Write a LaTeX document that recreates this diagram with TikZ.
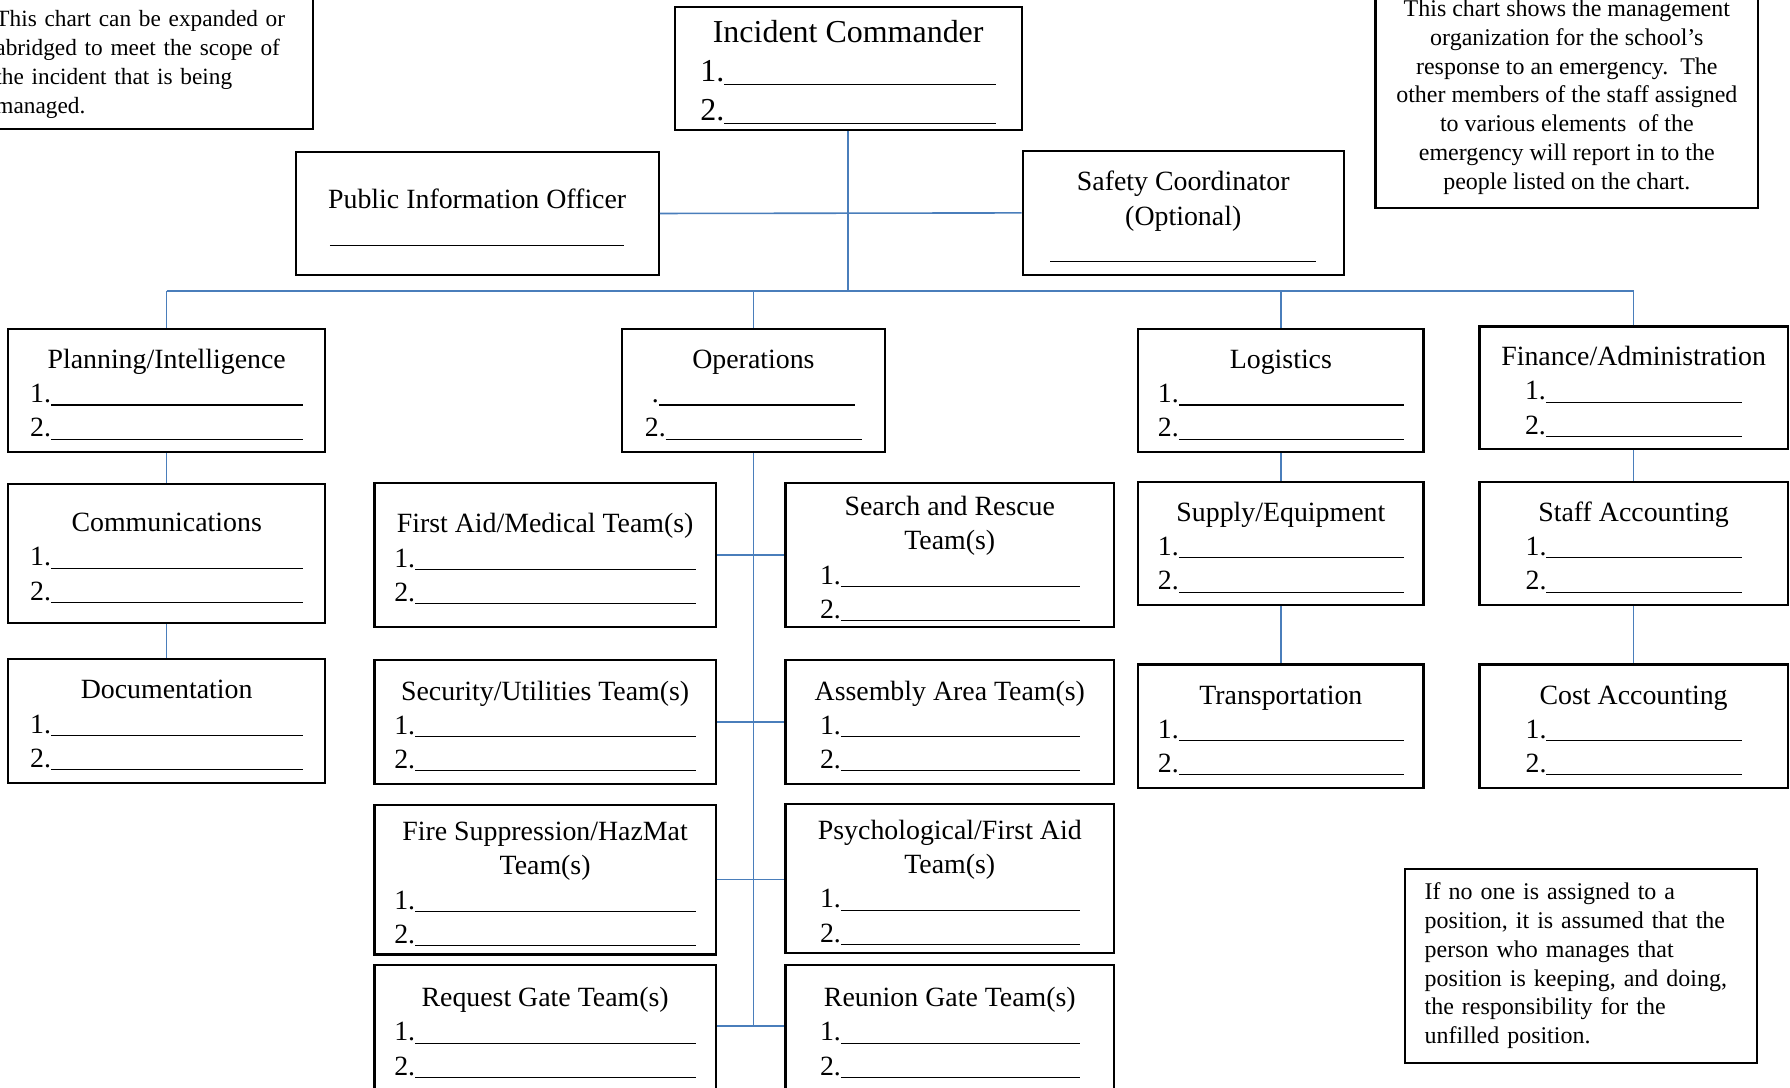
\documentclass[tikz,border=0pt]{standalone}
\usepackage{fontspec}
\setmainfont{Liberation Serif}
\definecolor{linkblue}{RGB}{74,126,187}
\newcommand{\fillin}[1]{\rule[-0.1em]{#1}{0.5pt}}
\newcommand{\bx}{\rule{0pt}{12pt}}
\newcommand{\bxbig}{\rule{0pt}{13pt}}
\begin{document}
\begin{tikzpicture}[x=0.5pt,y=-0.5pt,
  box/.style={draw=black, line width=1pt, fill=white, align=center, inner sep=2pt,
    font=\fontsize{12.2}{15}\selectfont},
  bigbox/.style={box, font=\fontsize{14}{17}\selectfont},
  note/.style={draw=black, line width=1pt, fill=white, font=\fontsize{10.5}{12.6}\selectfont},
  link/.style={draw=linkblue, line width=0.7pt}]
\useasboundingbox (0,0) rectangle (1568,953);
\clip (0,0) rectangle (1568,953);
\fill[white] (0,0) rectangle (1568,953);

% notes
\node[note, font=\fontsize{10.2}{12.6}\selectfont, text width=131pt, inner xsep=8pt, align=left, minimum height=61.5pt] (noteL) at (127,51.5)
  {\rule{0pt}{12pt}This chart can be expanded or\\abridged to meet the scope of\\the incident that is being\\managed.};
\node[note, align=center, minimum width=167.5pt, minimum height=97pt, inner sep=0pt] (noteR) at (1372.5,85)
  {This chart shows the management\\organization for the school’s\\response to an emergency.\ \ The\\other members of the staff assigned\\to various elements\ \ of the\\emergency will report in to the\\people listed on the chart.};
\node[note, text width=137pt, inner xsep=8.5pt, align=left, minimum height=85pt] (noteB) at (1385,846)
  {If no one is assigned to a\\position, it is assumed that the\\person who manages that\\position is keeping, and doing,\\the responsibility for the\\unfilled position.};

% top level
\node[bigbox, minimum width=152pt, minimum height=54pt] (ic) at (743,60)
  {\bxbig Incident Commander\\1.\fillin{119pt}\\2.\fillin{119pt}};
\node[box, minimum width=159pt, minimum height=54pt] (pio) at (418,187)
  {\bx Public Information Officer\\\fillin{129pt}};
\node[box, minimum width=140.5pt, minimum height=54.5pt] (safety) at (1036.5,186.5)
  {\bx Safety Coordinator\\(Optional)\\\fillin{116.5pt}};

% sections
\node[box, minimum width=139pt, minimum height=54pt] (plan) at (146,342)
  {\bx Planning/Intelligence\\1.\fillin{110.5pt}\\2.\fillin{110.5pt}};
\node[box, minimum width=115pt, minimum height=54pt] (ops) at (660,342)
  {\bx Operations\\.\fillin{86pt}\\2.\fillin{86pt}};
\node[box, minimum width=125pt, minimum height=54pt] (log) at (1122,342)
  {\bx Logistics\\1.\fillin{98.5pt}\\2.\fillin{98.5pt}};
\node[box, minimum width=135pt, minimum height=53.5pt] (fin) at (1431,339.5)
  {\bx Finance/Administration\\1.\fillin{86pt}\\2.\fillin{86pt}};

% planning column
\node[box, minimum width=139pt, minimum height=61pt] (comm) at (146,485)
  {\bx Communications\\1.\fillin{110.5pt}\\2.\fillin{110.5pt}};
\node[box, minimum width=139pt, minimum height=54.5pt] (doc) at (146,631.5)
  {\bx Documentation\\1.\fillin{110.5pt}\\2.\fillin{110.5pt}};

% logistics column
\node[box, minimum width=125pt, minimum height=54pt] (sup) at (1122,476)
  {\bx Supply/Equipment\\1.\fillin{98.5pt}\\2.\fillin{98.5pt}};
\node[box, minimum width=125pt, minimum height=54pt] (trans) at (1122,636)
  {\bx Transportation\\1.\fillin{98.5pt}\\2.\fillin{98.5pt}};

% finance column
\node[box, minimum width=135pt, minimum height=54pt] (staff) at (1431,476)
  {\bx Staff Accounting\\1.\fillin{85.5pt}\\2.\fillin{85.5pt}};
\node[box, minimum width=135pt, minimum height=54pt] (cost) at (1431,636)
  {\bx Cost Accounting\\1.\fillin{85.5pt}\\2.\fillin{85.5pt}};

% operations teams
\node[box, minimum width=149.5pt, minimum height=63pt] (fa) at (477.5,486)
  {\bx First Aid/Medical Team(s)\\1.\fillin{123pt}\\2.\fillin{123pt}};
\node[box, minimum width=144pt, minimum height=63pt] (sr) at (832,486)
  {\bx Search and Rescue\\Team(s)\\1.\fillin{104.5pt}\\2.\fillin{104.5pt}};
\node[box, minimum width=149.5pt, minimum height=54.5pt] (sec) at (477.5,632.5)
  {\bx Security/Utilities Team(s)\\1.\fillin{123pt}\\2.\fillin{123pt}};
\node[box, minimum width=144pt, minimum height=54.5pt] (asm) at (832,632.5)
  {\bx Assembly Area Team(s)\\1.\fillin{104.5pt}\\2.\fillin{104.5pt}};
\node[box, minimum width=149.5pt, minimum height=65.5pt] (fire) at (477.5,770.5)
  {\bx Fire Suppression/HazMat\\Team(s)\\1.\fillin{123pt}\\2.\fillin{123pt}};
\node[box, minimum width=144pt, minimum height=65.5pt] (psy) at (832,769.5)
  {\bx Psychological/First Aid\\Team(s)\\1.\fillin{104.5pt}\\2.\fillin{104.5pt}};
\node[box, minimum width=149.5pt, minimum height=56pt] (req) at (477.5,901)
  {\bx Request Gate Team(s)\\1.\fillin{123pt}\\2.\fillin{123pt}};
\node[box, minimum width=144pt, minimum height=56pt] (reu) at (832,901)
  {\bx Reunion Gate Team(s)\\1.\fillin{104.5pt}\\2.\fillin{104.5pt}};

% connectors
\coordinate (busL) at (146,255);
\coordinate (busR) at (1431,255);
\coordinate (opsEnd) at (660,899);
\draw[link] (busL) -- (busR);
\draw[link] (ic.south) -- (ic.south |- busL);
\draw[link] (pio.east) -- (safety.west);
\draw[link] (plan.north) -- (plan.north |- busL);
\draw[link] (ops.north) -- (ops.north |- busL);
\draw[link] (log.north) -- (log.north |- busL);
\draw[link] (fin.north) -- (fin.north |- busL);
\draw[link] (plan.south) -- (comm.north);
\draw[link] (comm.south) -- (doc.north);
\draw[link] (log.south) -- (sup.north);
\draw[link] (sup.south) -- (trans.north);
\draw[link] (fin.south) -- (staff.north);
\draw[link] (staff.south) -- (cost.north);
\draw[link] (ops.south) -- (opsEnd);
\draw[link] (fa.east) -- (sr.west);
\draw[link] (sec.east) -- (asm.west);
\draw[link] (fire.east) -- (fire.east -| psy.west);
\draw[link] (req.east |- opsEnd) -- (reu.west |- opsEnd);
\end{tikzpicture}
\end{document}
